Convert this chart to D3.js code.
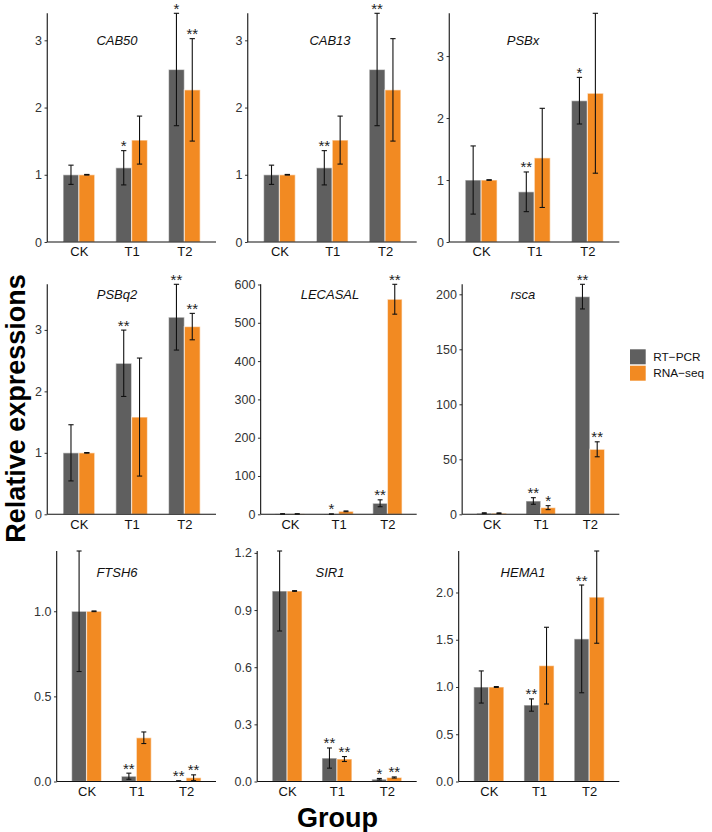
<!DOCTYPE html>
<html>
<head>
<meta charset="utf-8">
<script src="https://cdn.jsdelivr.net/npm/d3@7"></script>
<style>
  html, body { margin: 0; padding: 0; background: #ffffff; }
  svg { display: block; font-family: "Liberation Sans", Arial, Helvetica, sans-serif; }
</style>
</head>
<body>
<svg id="chart" width="712" height="832"></svg>
<script>
// ---------------- data ----------------
const groups = ["CK", "T1", "T2"];
const seriesNames = ["RT\u2212PCR", "RNA\u2212seq"];
const genes = ["CAB50", "CAB13", "PSBx", "PSBq2", "LECASAL", "rsca", "FTSH6", "SIR1", "HEMA1"];

// RT-PCR means (CK, T1, T2)
const rtMean = [
  [1.00, 1.104, 2.566],
  [1.00, 1.104, 2.566],
  [1.00, 0.81, 2.28],
  [1.00, 2.457, 3.207],
  [1.0, 0.6, 28.8],
  [1.0, 12.1, 197.9],
  [1.00, 0.031, 0.003],
  [1.00, 0.123, 0.012],
  [1.00, 0.809, 1.509]
];
// RT-PCR error (half-width)
const rtErr = [
  [0.143, 0.255, 0.836],
  [0.143, 0.255, 0.836],
  [0.55, 0.32, 0.376],
  [0.457, 0.54, 0.535],
  [0.3, 0.3, 9.0],
  [0.4, 3.0, 11.2],
  [0.354, 0.018, 0.001],
  [0.21, 0.053, 0.004],
  [0.17, 0.065, 0.57]
];
// RNA-seq means
const seqMean = [
  [1.00, 1.516, 2.263],
  [1.00, 1.516, 2.263],
  [1.00, 1.357, 2.40],
  [1.00, 1.582, 3.054],
  [1.0, 7.8, 561.5],
  [1.0, 6.06, 59.1],
  [1.00, 0.257, 0.022],
  [1.00, 0.118, 0.021],
  [1.00, 1.226, 1.951]
];
// RNA-seq error
const seqErr = [
  [0.005, 0.357, 0.762],
  [0.005, 0.357, 0.762],
  [0.005, 0.80, 1.29],
  [0.005, 0.96, 0.215],
  [0.3, 1.0, 39.0],
  [0.3, 1.8, 6.8],
  [0.002, 0.034, 0.017],
  [0.002, 0.013, 0.003],
  [0.005, 0.406, 0.488]
];
// significance marks
const rtSig = [
  ["", "*", "*"], ["", "**", "**"], ["", "**", "*"],
  ["", "**", "**"], ["", "*", "**"], ["", "**", "**"],
  ["", "**", "**"], ["", "**", "*"], ["", "**", "**"]
];
const seqSig = [
  ["", "", "**"], ["", "", ""], ["", "", ""],
  ["", "", "**"], ["", "", "**"], ["", "*", "**"],
  ["", "", "**"], ["", "**", "**"], ["", "", ""]
];
// y tick values and labels
const yTickValues = [
  [0, 1, 2, 3], [0, 1, 2, 3], [0, 1, 2, 3],
  [0, 1, 2, 3], [0, 100, 200, 300, 400, 500, 600], [0, 50, 100, 150, 200],
  [0, 0.5, 1.0], [0, 0.3, 0.6, 0.9, 1.2], [0, 0.5, 1.0, 1.5, 2.0]
];
const yTickLabels = [
  ["0", "1", "2", "3"], ["0", "1", "2", "3"], ["0", "1", "2", "3"],
  ["0", "1", "2", "3"], ["0", "100", "200", "300", "400", "500", "600"], ["0", "50", "100", "150", "200"],
  ["0.0", "0.5", "1.0"], ["0.0", "0.3", "0.6", "0.9", "1.2"], ["0.0", "0.5", "1.0", "1.5", "2.0"]
];

// ---------------- layout ----------------
const colors = ["#5f5f5f", "#F28A22"];
const colLabelLeft = [34.5, 235, 436.5];
const colRight = [216, 416.7, 619.3];
const rowTop = [13.3, 284.3, 551];
const rowBottom = [242, 514.3, 781.5];
const titleX = [117, 330, 523];
const titleBase = [44.5, 299, 576.5];

const svg = d3.select("#chart");

// measure helper
const measure = svg.append("text").attr("font-size", 12.5).attr("x", -100).attr("y", -100);
function textW(s) { measure.text(s); return measure.node().getComputedTextLength(); }

genes.forEach((gene, gi) => {
  const c = gi % 3, r = Math.floor(gi / 3);
  const maxLab = d3.max(yTickLabels[gi], textW);
  const left = colLabelLeft[c] + maxLab + (maxLab > 10 ? 4.8 : 5.8);
  const right = colRight[c];
  const top = rowTop[r], bottom = rowBottom[r];

  const uppers = [];
  groups.forEach((g, k) => {
    uppers.push(rtMean[gi][k] + rtErr[gi][k]);
    uppers.push(seqMean[gi][k] + seqErr[gi][k]);
  });
  const y = d3.scaleLinear().domain([0, d3.max(uppers)]).range([bottom, top]);
  const x = d3.scalePoint().domain(groups).range([left, right]).padding(0.6);
  const step = x.step();
  const xs = d3.scaleBand().domain([0, 1]).range([-0.3 * step, 0.3 * step]).padding(0);
  const bw = xs.bandwidth();

  const g = svg.append("g");

  // bars
  const rows = [];
  groups.forEach((grp, k) => {
    rows.push({grp, s: 0, v: rtMean[gi][k], e: rtErr[gi][k], sig: rtSig[gi][k]});
    rows.push({grp, s: 1, v: seqMean[gi][k], e: seqErr[gi][k], sig: seqSig[gi][k]});
  });

  g.selectAll("rect.bar").data(rows).join("rect")
    .attr("class", "bar")
    .attr("x", d => x(d.grp) + xs(d.s))
    .attr("y", d => y(d.v))
    .attr("width", bw)
    .attr("height", d => y(0) - y(d.v))
    .attr("fill", d => colors[d.s])
    .attr("stroke", "rgba(255,255,255,0.55)")
    .attr("stroke-width", 1.2);

  // error bars
  const cap = 0.05 * step;
  const eb = g.selectAll("g.eb").data(rows).join("g").attr("class", "eb")
    .attr("stroke", "#111").attr("stroke-width", 1.1).attr("fill", "none");
  eb.append("line")
    .attr("x1", d => x(d.grp) + xs(d.s) + bw / 2).attr("x2", d => x(d.grp) + xs(d.s) + bw / 2)
    .attr("y1", d => y(Math.max(0, d.v - d.e))).attr("y2", d => y(d.v + d.e));
  eb.append("line")
    .attr("x1", d => x(d.grp) + xs(d.s) + bw / 2 - cap).attr("x2", d => x(d.grp) + xs(d.s) + bw / 2 + cap)
    .attr("y1", d => y(d.v + d.e)).attr("y2", d => y(d.v + d.e));
  eb.append("line")
    .attr("x1", d => x(d.grp) + xs(d.s) + bw / 2 - cap).attr("x2", d => x(d.grp) + xs(d.s) + bw / 2 + cap)
    .attr("y1", d => y(Math.max(0, d.v - d.e))).attr("y2", d => y(Math.max(0, d.v - d.e)));

  // significance stars
  g.selectAll("text.sig").data(rows.filter(d => d.sig)).join("text")
    .attr("class", "sig")
    .attr("x", d => x(d.grp) + xs(d.s) + bw / 2)
    .attr("y", d => y(d.v + d.e) + 0.5)
    .attr("text-anchor", "middle")
    .attr("font-size", 15)
    .attr("fill", "#222")
    .text(d => d.sig);

  // y axis
  const yAxis = d3.axisLeft(y).tickValues(yTickValues[gi])
    .tickFormat((v, i) => yTickLabels[gi][i]).tickSize(2.7).tickPadding(2.5);
  const ya = g.append("g").attr("transform", `translate(${left},0)`).call(yAxis);
  ya.select(".domain").remove();
  ya.selectAll(".tick line").attr("stroke", "#333").attr("stroke-width", 1);
  ya.selectAll(".tick text").attr("font-size", 12.5).attr("fill", "#333")
    .attr("font-family", "Liberation Sans, Arial, sans-serif");
  g.append("line").attr("x1", left).attr("x2", left).attr("y1", top).attr("y2", bottom)
    .attr("stroke", "#111").attr("stroke-width", 1.1);

  // x axis
  const xAxis = d3.axisBottom(x).tickSize(0).tickPadding(5);
  const xa = g.append("g").attr("transform", `translate(0,${bottom})`).call(xAxis);
  xa.select(".domain").remove();
  xa.selectAll(".tick text").attr("font-size", 13).attr("fill", "#111")
    .attr("font-family", "Liberation Sans, Arial, sans-serif").attr("dy", "0.71em");
  g.append("line").attr("x1", left).attr("x2", right).attr("y1", bottom).attr("y2", bottom)
    .attr("stroke", "#111").attr("stroke-width", 1.1);

  // gene title
  g.append("text").attr("x", titleX[c]).attr("y", titleBase[r])
    .attr("text-anchor", "middle").attr("font-size", 13).attr("font-style", "italic")
    .attr("fill", "#111").text(gene);
});
measure.remove();

// axis titles
svg.append("text").attr("transform", "translate(24.5,408.5) rotate(-90)")
  .attr("text-anchor", "middle").attr("font-size", 27).attr("font-weight", "bold")
  .attr("fill", "#000").text("Relative expressions");
svg.append("text").attr("x", 337.5).attr("y", 827)
  .attr("text-anchor", "middle").attr("font-size", 27).attr("font-weight", "bold")
  .attr("fill", "#000").text("Group");

// legend
const legend = svg.append("g").attr("transform", "translate(630,349.3)");
seriesNames.forEach((name, i) => {
  legend.append("rect").attr("x", 0).attr("y", i * 16.4).attr("width", 15.7).attr("height", 15)
    .attr("fill", colors[i]);
  legend.append("text").attr("x", 23.3).attr("y", i * 16.4 + 11.7)
    .attr("font-size", 11.8).attr("fill", "#111").text(name);
});
</script>
</body>
</html>
